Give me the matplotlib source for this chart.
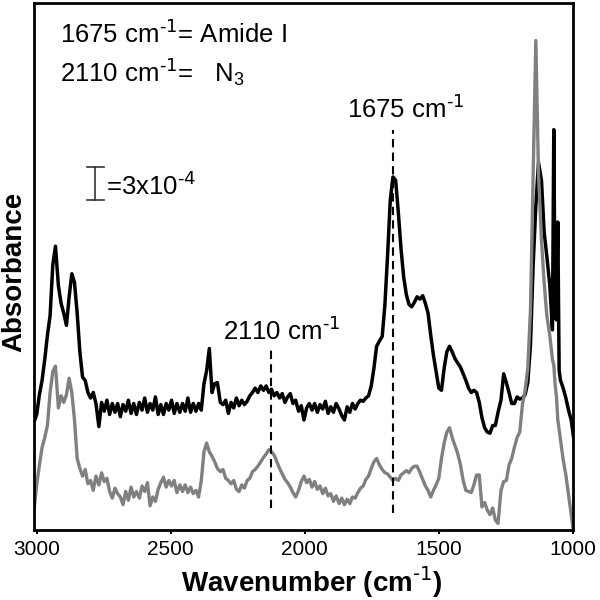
import matplotlib
matplotlib.use("Agg")
import matplotlib.pyplot as plt

plt.rcParams["font.family"] = ["Liberation Sans", "DejaVu Sans"]
plt.rcParams["mathtext.default"] = "regular"

# wavenumber (cm-1), shared by both spectra
numero_onda = [
    3010, 3000, 2990, 2980, 2970, 2960, 2950, 2940, 2930, 2919,
    2909, 2899, 2889, 2879, 2869, 2859, 2849, 2839, 2829, 2819,
    2809, 2799, 2789, 2779, 2768, 2758, 2748, 2738, 2728, 2718,
    2708, 2698, 2688, 2678, 2668, 2658, 2648, 2638, 2628, 2617,
    2607, 2597, 2587, 2577, 2567, 2557, 2547, 2537, 2527, 2517,
    2507, 2497, 2487, 2477, 2466, 2456, 2446, 2436, 2426, 2416,
    2406, 2396, 2386, 2376, 2366, 2356, 2346, 2336, 2326, 2315,
    2305, 2295, 2285, 2275, 2265, 2255, 2245, 2235, 2225, 2215,
    2205, 2195, 2185, 2175, 2164, 2154, 2144, 2134, 2124, 2114,
    2104, 2094, 2084, 2074, 2064, 2054, 2044, 2034, 2023, 2013,
    2003, 1993, 1983, 1973, 1963, 1953, 1943, 1933, 1923, 1913,
    1903, 1893, 1883, 1872, 1862, 1852, 1842, 1832, 1822, 1812,
    1802, 1792, 1782, 1772, 1762, 1752, 1742, 1732, 1721, 1711,
    1701, 1691, 1681, 1671, 1661, 1651, 1641, 1631, 1621, 1611,
    1601, 1591, 1581, 1570, 1560, 1550, 1540, 1530, 1520, 1510,
    1500, 1490, 1480, 1470, 1460, 1450, 1440, 1430, 1419, 1409,
    1399, 1389, 1379, 1369, 1359, 1349, 1339, 1329, 1319, 1309,
    1299, 1289, 1279, 1268, 1258, 1248, 1238, 1228, 1218, 1208,
    1198, 1188, 1178, 1168, 1158, 1148, 1138, 1128, 1117, 1107,
    1097, 1086, 1076, 1071, 1066, 1061, 1056, 1051, 1046, 1036,
    1026, 1016, 1006, 996,
]

# absorbance (x1e-4, arbitrary offset), black spectrum
abs_negro = [
    9.8, 10.5, 12.3, 13.6, 15.5, 17.7, 19.5, 24.1, 25.8, 22.2,
    20.6, 19.7, 18.6, 21.2, 23.3, 22.5, 19.7, 16.2, 13.9, 13.6,
    12.5, 12.0, 12.5, 11.5, 9.4, 11.6, 10.8, 11.8, 10.5, 11.5,
    10.7, 11.5, 10.3, 11.4, 10.8, 11.8, 10.6, 11.5, 10.5, 11.6,
    10.9, 12.0, 10.7, 11.5, 10.9, 12.1, 10.5, 11.4, 10.5, 11.5,
    10.9, 11.8, 10.6, 11.5, 10.7, 11.5, 10.8, 12.0, 10.7, 11.5,
    10.8, 11.5, 10.9, 13.3, 14.5, 16.5, 12.5, 13.3, 13.4, 11.6,
    11.4, 11.8, 10.6, 11.6, 11.1, 12.0, 11.3, 11.8, 11.4, 11.7,
    12.2, 12.5, 12.9, 12.5, 13.1, 12.7, 13.1, 12.5, 12.8, 12.2,
    12.5, 12.0, 12.4, 11.6, 12.1, 12.4, 11.5, 11.8, 10.8, 11.3,
    10.0, 11.1, 11.5, 10.9, 11.5, 10.7, 11.4, 11.0, 11.7, 10.6,
    11.2, 10.7, 11.5, 11.0, 10.4, 10.0, 11.2, 10.7, 11.5, 11.0,
    11.5, 11.8, 11.7, 12.0, 12.2, 13.1, 14.7, 16.7, 17.2, 17.6,
    20.5, 25.0, 30.0, 32.1, 31.8, 28.9, 25.6, 23.0, 21.4, 20.5,
    20.3, 20.7, 21.2, 21.0, 21.3, 20.6, 19.7, 17.7, 15.9, 14.4,
    12.9, 12.7, 14.7, 16.2, 16.7, 16.2, 15.6, 15.2, 14.8, 14.2,
    13.6, 12.9, 12.5, 12.7, 12.5, 11.6, 10.2, 9.3, 8.9, 8.8,
    9.5, 9.5, 10.7, 11.8, 14.2, 13.4, 12.5, 11.5, 11.5, 12.1,
    11.9, 12.0, 12.3, 13.4, 16.8, 24.1, 29.5, 33.4, 31.8, 27.1,
    24.9, 22.3, 18.2, 36.4, 19.5, 19.1, 28.0, 14.5, 13.6, 12.9,
    12.0, 10.9, 10.0, 8.2,
]

# absorbance (x1e-4, arbitrary offset), gray spectrum
abs_gris = [
    1.8, 4.1, 5.9, 7.5, 8.4, 9.5, 12.5, 14.4, 14.9, 11.1,
    12.2, 11.6, 12.3, 13.8, 12.5, 10.0, 6.5, 5.6, 4.9, 5.5,
    4.2, 4.5, 3.6, 4.9, 4.1, 5.2, 4.4, 4.7, 3.5, 2.9,
    3.8, 3.3, 3.0, 2.3, 3.5, 2.7, 3.9, 3.0, 3.5, 2.9,
    4.0, 3.5, 4.3, 2.2, 3.0, 2.6, 3.7, 4.3, 4.8, 3.9,
    4.5, 4.0, 4.5, 3.4, 4.1, 3.5, 4.1, 3.4, 3.9, 3.3,
    3.6, 3.0, 4.5, 7.1, 7.9, 7.1, 6.7, 6.2, 5.6, 5.3,
    5.5, 4.7, 4.5, 4.2, 4.5, 3.7, 3.5, 4.1, 3.8, 4.5,
    4.7, 5.3, 5.5, 5.8, 6.2, 6.6, 6.9, 7.3, 7.1, 6.8,
    6.2, 5.6, 5.1, 4.6, 4.3, 3.9, 3.4, 3.0, 3.6, 4.4,
    4.9, 4.3, 4.6, 3.9, 4.4, 3.7, 4.0, 3.3, 3.8, 3.1,
    3.3, 2.6, 3.1, 2.4, 2.9, 2.3, 2.8, 2.4, 3.0, 2.9,
    3.4, 3.8, 4.0, 4.6, 4.9, 5.6, 6.2, 6.5, 5.9, 5.5,
    5.2, 5.1, 4.8, 4.5, 4.7, 4.5, 5.0, 5.2, 5.4, 5.2,
    5.6, 5.8, 5.8, 5.2, 4.6, 4.0, 3.6, 3.0, 3.6, 4.1,
    4.7, 6.5, 7.9, 8.9, 9.3, 8.4, 7.7, 7.0, 5.9, 4.5,
    3.6, 3.5, 3.4, 4.1, 5.0, 5.0, 2.1, 2.5, 1.8, 1.4,
    2.0, 0.9, 0.6, 3.6, 4.4, 4.5, 5.9, 6.5, 7.5, 8.4,
    8.9, 11.4, 12.7, 14.7, 20.0, 32.3, 44.5, 32.3, 26.4, 22.5,
    19.5, 17.7, 15.5, 15.0, 13.2, 12.1, 10.0, 9.1, 8.2, 6.4,
    5.0, 3.2, 1.4, -0.5,
]

# dashed marker lines
marca_onda = [2125, 1672]
marca_arriba = [16.4, 36.4]
marca_abajo = [2.0, 1.5]
marca_texto = [r"2110 cm$^{\text{-1}}$", r"1675 cm$^{\text{-1}}$"]
marca_texto_x = [2087, 1622]
marca_texto_y = [17.3, 37.5]

# scale bar (3x10^-4 = 3 units)
barra_x = 2782
barra_base = 30.0
barra_alto = 3.0

fig = plt.figure(figsize=(6, 6), dpi=100)
ax = fig.add_axes([0.0567, 0.1167, 0.898, 0.878])

ax.plot(numero_onda, abs_negro, color="black", lw=2.5)
ax.plot(numero_onda, abs_gris, color="#808080", lw=2.4)

for i in range(len(marca_onda)):
    ax.plot([marca_onda[i], marca_onda[i]], [marca_abajo[i], marca_arriba[i]],
            color="black", lw=1.5, dashes=(4, 2.5))
    ax.text(marca_texto_x[i], marca_texto_y[i], marca_texto[i], fontsize=18.5,
            ha="center", va="baseline")

ax.plot([barra_x, barra_x], [barra_base, barra_base + barra_alto], color="#333333", lw=1.2)
ax.plot([barra_x + 30, barra_x - 34], [barra_base, barra_base], color="#333333", lw=1.2)
ax.plot([barra_x + 30, barra_x - 34], [barra_base + barra_alto, barra_base + barra_alto],
        color="#333333", lw=1.2)
ax.text(barra_x - 41, barra_base + 0.5, r"=3x10$^{\text{-4}}$", fontsize=18.5, va="baseline")

ax.text(0.048, 0.924, r"1675 cm$^{\text{-1}}$= Amide I", transform=ax.transAxes, fontsize=18.5)
ax.text(0.048, 0.850, r"2110 cm$^{\text{-1}}$=   N$_3$", transform=ax.transAxes, fontsize=18.5)

ax.set_xlim(3010, 1000)
ax.set_ylim(0, 47.9)
ax.set_xticks([3000, 2500, 2000, 1500, 1000])
ax.set_yticks([])
ax.tick_params(axis="x", direction="out", length=3, width=1.5, labelsize=15, pad=4)
for s in ax.spines.values():
    s.set_linewidth(2.0)

ax.set_xlabel(r"Wavenumber (cm$^{\text{-1}}$)", fontsize=20, fontweight="bold")
ax.set_ylabel("Absorbance", fontsize=20, fontweight="bold")
ax.xaxis.set_label_coords(0.515, -0.066)
ax.yaxis.set_label_coords(-0.013, 0.49)

plt.savefig("out.png", dpi=100)
